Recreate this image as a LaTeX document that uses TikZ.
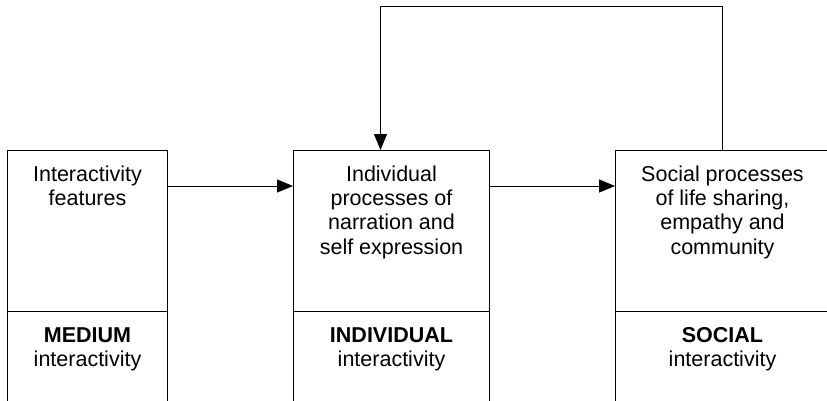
\documentclass[tikz,border=0pt]{standalone}
\usepackage{fontspec}
\setmainfont{Liberation Sans}
\usetikzlibrary{arrows.meta}
\begin{document}
\begin{tikzpicture}[x=1pt,y=-1pt,
  boxshape/.style={draw=black,line width=1pt,minimum height=251pt,inner sep=0pt,anchor=north west},
  divline/.style={line width=1pt},
  txt/.style={font=\fontsize{21.5}{24.3}\selectfont,align=center,inner sep=0pt,anchor=north},
  arr/.style={line width=1pt,-{Triangle[length=16pt,width=13pt]}},
  plain/.style={line width=1pt}]
\useasboundingbox (0,0) rectangle (827,400);
\clip (0,0) rectangle (827,400);
% boxes
\node[boxshape,minimum width=160pt] (med) at (7,150) {};
\node[boxshape,minimum width=196pt] (ind) at (293,150) {};
\node[boxshape,minimum width=214pt] (soc) at (615,150) {};
% dividers
\draw[divline] ([yshift=-161pt]med.north west) -- ([yshift=-161pt]med.north east);
\draw[divline] ([yshift=-161pt]ind.north west) -- ([yshift=-161pt]ind.north east);
\draw[divline] ([yshift=-161pt]soc.north west) -- ([yshift=-161pt]soc.north east);
% texts
\node[txt] (medtop) at ([yshift=-15.5pt]med.north) {Interactivity\\features};
\node[txt] (indtop) at ([yshift=-15.5pt]ind.north) {Individual\\processes of\\narration and\\self expression};
\node[txt] (soctop) at ([yshift=-15.5pt]soc.north) {Social processes\\of life sharing,\\empathy and\\community};
\node[txt] (medbot) at ([yshift=-177pt]med.north) {\textbf{MEDIUM}\\interactivity};
\node[txt] (indbot) at ([yshift=-177pt]ind.north) {\textbf{INDIVIDUAL}\\interactivity};
\node[txt] (socbot) at ([yshift=-177pt]soc.north) {\textbf{SOCIAL}\\interactivity};
% arrows
\draw[arr] ([yshift=-36pt]med.north east) -- ([yshift=-36pt]ind.north west);
\draw[arr] ([yshift=-36pt]ind.north east) -- ([yshift=-36pt]soc.north west);
% feedback
\coordinate (fbstart) at (soc.north);
\coordinate (fbend) at ([xshift=-11pt]ind.north);
\draw[arr] (fbstart) -- ++(0,-144) -| (fbend);
\end{tikzpicture}
\end{document}
